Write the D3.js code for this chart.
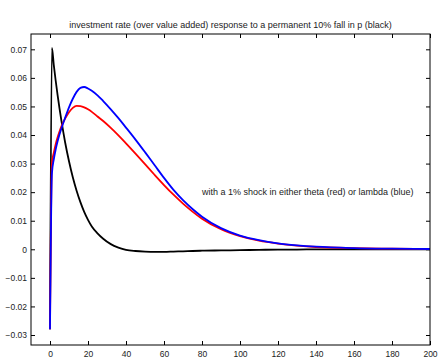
<!DOCTYPE html>
<html>
<head>
<meta charset="utf-8">
<script src="https://cdn.jsdelivr.net/npm/d3@7"></script>
<style>
  body { margin: 0; background: #fff; }
  text { font-family: "Liberation Sans", Arial, Helvetica, sans-serif; }
</style>
</head>
<body>
<div id="chart"></div>
<script>
// periods after the shock
const periods = [0, 1, 2, 3, 4, 5, 6, 8, 10, 12, 14, 16, 18, 20, 22, 25, 28, 32, 36, 40, 45, 50, 55, 60, 65, 70, 75, 80, 90, 100, 110, 120, 130, 140, 160, 180, 200];

// response to a permanent 10% fall in p (black)
const blackResp = [-0.028, 0.0705, 0.0645, 0.0590, 0.0540, 0.0493, 0.0450, 0.0373, 0.0308, 0.0252, 0.0205, 0.0165, 0.0131, 0.0103, 0.0080, 0.0056, 0.0037, 0.0018, 0.0006, -0.0002, -0.0006, -0.0008, -0.0009, -0.0009, -0.0008, -0.0007, -0.0006, -0.0005, -0.0004, -0.0003, -0.0002, -0.0001, -0.0001, 0, 0, 0, 0];
// with 1% shock in theta (red)
const redResp = [-0.028, 0.0300, 0.0338, 0.0368, 0.0392, 0.0412, 0.0430, 0.0458, 0.0480, 0.0495, 0.0502, 0.0501, 0.0497, 0.0490, 0.0481, 0.0465, 0.0449, 0.0425, 0.0399, 0.0371, 0.0335, 0.0298, 0.0261, 0.0225, 0.0191, 0.0160, 0.0132, 0.0107, 0.0070, 0.0046, 0.0030, 0.0020, 0.0013, 0.0008, 0.0004, 0.0002, 0.0001];
// with 1% shock in lambda (blue)
const blueResp = [-0.028, 0.0265, 0.0315, 0.0350, 0.0378, 0.0402, 0.0423, 0.0461, 0.0497, 0.0527, 0.0551, 0.0565, 0.0568, 0.0563, 0.0555, 0.0539, 0.0519, 0.0490, 0.0459, 0.0426, 0.0384, 0.0340, 0.0295, 0.0250, 0.0208, 0.0172, 0.0141, 0.0114, 0.0074, 0.0048, 0.0032, 0.0021, 0.0014, 0.0009, 0.0004, 0.0002, 0.0001];

const xTicks = [0, 20, 40, 60, 80, 100, 120, 140, 160, 180, 200];
const yTicks = [-0.03, -0.02, -0.01, 0, 0.01, 0.02, 0.03, 0.04, 0.05, 0.06, 0.07];

const titleText = "investment rate (over value added) response to a permanent 10% fall in p (black)";
const noteText = "with a 1% shock in either theta (red) or lambda (blue)";

const width = 438, height = 361;
const plot = { left: 31, right: 430, top: 34, bottom: 345 };

const svg = d3.select("#chart").append("svg")
  .attr("width", width)
  .attr("height", height);

const x = d3.scaleLinear().domain([-10, 200]).range([plot.left, plot.right]);
const y = d3.scaleLinear().domain([-0.0335, 0.07536]).range([plot.bottom, plot.top]);

const yFmt = d => d === 0 ? "0" : d3.format(".2f")(d);

// axes, ticks pointing inward on all four sides
const gx = svg.append("g")
  .attr("transform", `translate(0,${plot.bottom})`)
  .call(d3.axisBottom(x).tickValues(xTicks).tickSize(-4).tickPadding(6));
const gxTop = svg.append("g")
  .attr("transform", `translate(0,${plot.top})`)
  .call(d3.axisTop(x).tickValues(xTicks).tickSize(-4).tickFormat(""));
const gy = svg.append("g")
  .attr("transform", `translate(${plot.left},0)`)
  .call(d3.axisLeft(y).tickValues(yTicks).tickSize(-4).tickPadding(4).tickFormat(yFmt));
const gyRight = svg.append("g")
  .attr("transform", `translate(${plot.right},0)`)
  .call(d3.axisRight(y).tickValues(yTicks).tickSize(-4).tickFormat(""));

[gx, gxTop, gy, gyRight].forEach(g => {
  g.select(".domain").remove();
  g.selectAll(".tick line").attr("stroke", "#000");
  g.selectAll("text").attr("font-size", 8.5).attr("fill", "#222");
});

// lines
const line = d3.line()
  .x(d => x(d[0]))
  .y(d => y(d[1]))
  .curve(d3.curveMonotoneX);

const series = [
  { values: blackResp, color: "#000" },
  { values: redResp, color: "#f00" },
  { values: blueResp, color: "#00f" }
];

svg.append("g").selectAll("path")
  .data(series)
  .join("path")
  .attr("d", s => line(periods.map((p, i) => [p, s.values[i]])))
  .attr("fill", "none")
  .attr("stroke", s => s.color)
  .attr("stroke-width", 1.8)
  .attr("stroke-linejoin", "round");

// axes box
svg.append("rect")
  .attr("x", plot.left)
  .attr("y", plot.top)
  .attr("width", plot.right - plot.left)
  .attr("height", plot.bottom - plot.top)
  .attr("fill", "none")
  .attr("stroke", "#000")
  .attr("stroke-width", 1);

svg.append("text")
  .attr("x", (plot.left + plot.right) / 2)
  .attr("y", 28)
  .attr("text-anchor", "middle")
  .attr("font-size", 9)
  .attr("fill", "#222")
  .text(titleText);

svg.append("text")
  .attr("x", x(80))
  .attr("y", y(0.02))
  .attr("dy", "0.35em")
  .attr("font-size", 9)
  .attr("fill", "#222")
  .text(noteText);
</script>
</body>
</html>
